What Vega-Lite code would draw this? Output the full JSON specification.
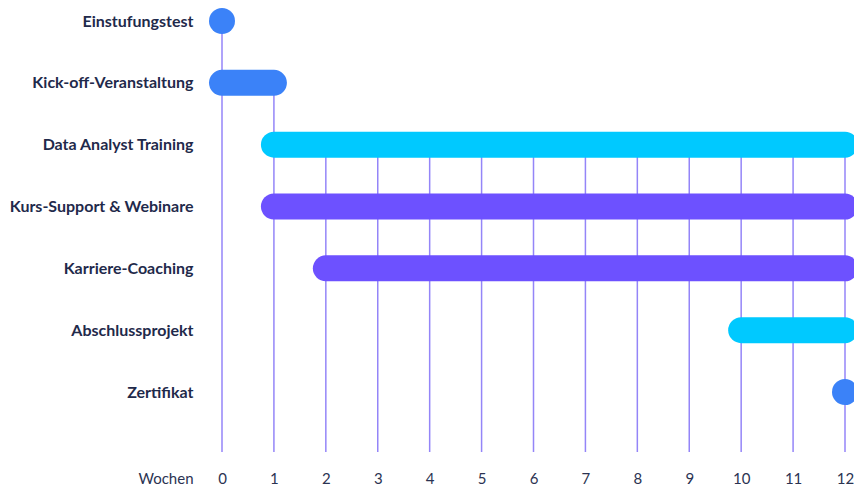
{
  "$schema": "https://vega.github.io/schema/vega-lite/v6.json",
  "width": 623,
  "height": 431,
  "autosize": {"type": "none"},
  "padding": {"left": 222, "top": 21, "right": 9, "bottom": 38},
  "background": "white",
  "config": {"view": {"stroke": null}, "font": "Lato"},
  "datasets": {
    "tasks": [
      {"aufgabe": "Einstufungstest", "start": 0, "ende": 0, "art": "Meilenstein"},
      {"aufgabe": "Kick-off-Veranstaltung", "start": 0, "ende": 1, "art": "Meilenstein"},
      {"aufgabe": "Data Analyst Training", "start": 1, "ende": 12, "art": "Training"},
      {"aufgabe": "Kurs-Support & Webinare", "start": 1, "ende": 12, "art": "Betreuung"},
      {"aufgabe": "Karriere-Coaching", "start": 2, "ende": 12, "art": "Betreuung"},
      {"aufgabe": "Abschlussprojekt", "start": 10, "ende": 12, "art": "Training"},
      {"aufgabe": "Zertifikat", "start": 12, "ende": 12, "art": "Meilenstein"}
    ],
    "raster": [
      {"woche": 0, "ab": "Einstufungstest"},
      {"woche": 1, "ab": "Kick-off-Veranstaltung"},
      {"woche": 2, "ab": "Data Analyst Training"},
      {"woche": 3, "ab": "Data Analyst Training"},
      {"woche": 4, "ab": "Data Analyst Training"},
      {"woche": 5, "ab": "Data Analyst Training"},
      {"woche": 6, "ab": "Data Analyst Training"},
      {"woche": 7, "ab": "Data Analyst Training"},
      {"woche": 8, "ab": "Data Analyst Training"},
      {"woche": 9, "ab": "Data Analyst Training"},
      {"woche": 10, "ab": "Data Analyst Training"},
      {"woche": 11, "ab": "Data Analyst Training"},
      {"woche": 12, "ab": "Data Analyst Training"}
    ]
  },
  "layer": [
    {
      "data": {"name": "raster"},
      "mark": {"type": "rule", "color": "#9485f8", "strokeWidth": 1.5},
      "encoding": {
        "x": {"field": "woche", "type": "quantitative"},
        "y": {"field": "ab", "type": "ordinal"},
        "y2": {"value": "height"}
      }
    },
    {
      "data": {"name": "tasks"},
      "mark": {"type": "rule", "strokeWidth": 26, "strokeCap": "round"},
      "encoding": {
        "y": {
          "field": "aufgabe",
          "type": "ordinal",
          "scale": {
            "type": "point",
            "padding": 0.485,
            "align": 0,
            "domain": ["Einstufungstest", "Kick-off-Veranstaltung", "Data Analyst Training", "Kurs-Support & Webinare", "Karriere-Coaching", "Abschlussprojekt", "Zertifikat"]
          },
          "axis": {
            "title": null,
            "domain": false,
            "ticks": false,
            "labelPadding": 29,
            "labelLimit": 400,
            "labelFontSize": 16,
            "labelFontWeight": "bold",
            "labelColor": "#1f2a4b"
          }
        },
        "x": {
          "field": "start",
          "type": "quantitative",
          "scale": {"domain": [0, 12], "nice": false},
          "axis": {
            "values": [0,1,2,3,4,5,6,7,8,9,10,11,12],
            "format": "d",
            "grid": false,
            "domain": false,
            "ticks": false,
            "labelFlush": false,
            "labelPadding": 19,
            "labelFontSize": 15,
            "labelColor": "#2b3352",
            "title": "Wochen",
            "titleFontSize": 15,
            "titleFontWeight": "normal",
            "titleColor": "#2b3352",
            "titleAnchor": "start",
            "titleAlign": "right",
            "titleBaseline": "top",
            "titleX": -29,
            "titleY": 19
          }
        },
        "x2": {"field": "ende"},
        "color": {
          "field": "art",
          "type": "nominal",
          "scale": {"domain": ["Meilenstein", "Training", "Betreuung"], "range": ["#3b82f8", "#00c9ff", "#6d51ff"]},
          "legend": null
        }
      }
    }
  ]
}
